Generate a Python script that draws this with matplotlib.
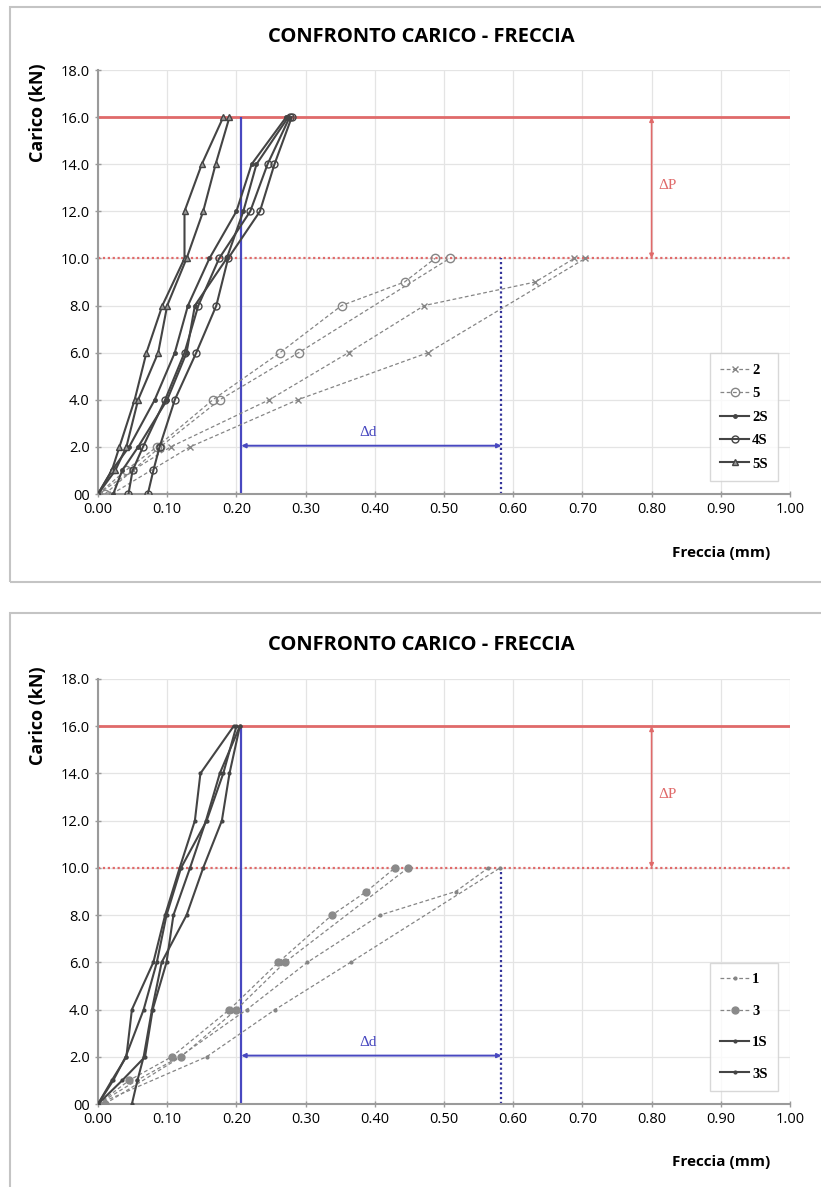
import matplotlib
matplotlib.use('Agg')
import matplotlib.pyplot as plt
from matplotlib.patches import Rectangle

# ---------------------------------------------------------------- data ---
# top panel: load (kN) vs deflection (mm), two traces per specimen
LOAD_STATIC_FULL = [0, 1, 2, 4, 6, 8, 9, 10]
LOAD_STATIC_SHORT = [0, 2, 4, 6, 10]
LOAD_CYCLIC = [0, 1, 2, 4, 6, 8, 10, 12, 14, 16]

T2_A = [0.00, 0.05, 0.105, 0.2475, 0.362, 0.4715, 0.632, 0.688]
T2_B = [0.02, 0.133, 0.2886, 0.477, 0.704]
T5_A = [0.00, 0.04, 0.085, 0.166, 0.263, 0.352, 0.443, 0.487]
T5_B = [0.01, 0.09, 0.176, 0.29, 0.508]
T2S_A = [0.000, 0.020, 0.045, 0.082, 0.111, 0.130, 0.161, 0.200, 0.222, 0.272]
T2S_B = [0.022, 0.035, 0.058, 0.100, 0.128, 0.140, 0.186, 0.210, 0.229, 0.275]
T4S_A = [0.072, 0.080, 0.089, 0.111, 0.142, 0.171, 0.188, 0.234, 0.255, 0.280]
T4S_B = [0.044, 0.050, 0.065, 0.097, 0.125, 0.145, 0.175, 0.220, 0.245, 0.277]
T5S_A = [0.000, 0.020, 0.031, 0.053, 0.070, 0.093, 0.125, 0.125, 0.150, 0.181]
T5S_B = [0.000, 0.025, 0.041, 0.058, 0.087, 0.100, 0.128, 0.152, 0.170, 0.190]

# bottom panel
B1_A = [0.00, 0.056, 0.118, 0.215, 0.3025, 0.4075, 0.517, 0.564]
B1_B = [0.00, 0.157, 0.256, 0.365, 0.581]
B3_A = [0.00, 0.045, 0.1065, 0.19, 0.2606, 0.338, 0.388, 0.429]
B3_B = [0.01, 0.12, 0.20, 0.27, 0.448]
B1S_A = [0.000, 0.020, 0.041, 0.049, 0.080, 0.097, 0.118, 0.140, 0.148, 0.196]
B1S_B = [0.000, 0.035, 0.068, 0.079, 0.099, 0.109, 0.133, 0.156, 0.176, 0.205]
B3S_A = [0.049, 0.057, 0.066, 0.078, 0.092, 0.128, 0.152, 0.179, 0.190, 0.205]
B3S_B = [0.000, 0.022, 0.040, 0.066, 0.085, 0.099, 0.120, 0.157, 0.181, 0.200]

Y_TICKS = [0, 2, 4, 6, 8, 10, 12, 14, 16, 18]
Y_LABELS = ['00', '2.0', '4.0', '6.0', '8.0', '10.0', '12.0', '14.0', '16.0', '18.0']
X_TICKS = [0.0, 0.1, 0.2, 0.3, 0.4, 0.5, 0.6, 0.7, 0.8, 0.9, 1.0]

P_MAX = 16.0
P_STATIC = 10.0
D_LEFT = 0.207
D_RIGHT = 0.583

# ------------------------------------------------------------- styling ---
C_RED = '#e06a6a'
C_BLUE = '#4848c0'
C_BLUE_DOT = '#34349a'
C_DASH = '#858585'
C_SOLID = '#444444'
C_GRID = '#e4e4e4'
C_AXIS = '#9a9a9a'
C_FRAME = '#c4c4c4'
SANS = ['Open Sans', 'DejaVu Sans']
SERIF = ['Liberation Serif', 'DejaVu Serif']
DASH = (0, (3, 2))

W, H = 821, 1187


def fx(px):
    return px / W


def fy(py):
    return 1 - py / H


def style_axis(ax):
    for side in ('top', 'right'):
        ax.spines[side].set_visible(False)
    for side in ('left', 'bottom'):
        ax.spines[side].set_color(C_AXIS)
        ax.spines[side].set_linewidth(1.5)
    ax.set_xlim(0, 1.0)
    ax.set_ylim(0, 18)
    ax.set_xticks(X_TICKS)
    ax.set_xticklabels([f'{v:.2f}' for v in X_TICKS], family=SANS, fontsize=10.5)
    ax.set_yticks(Y_TICKS)
    ax.set_yticklabels(Y_LABELS, family=SANS, fontsize=10.5)
    ax.tick_params(length=4, width=1, color=C_AXIS, direction='inout', pad=4)
    ax.grid(color=C_GRID, linewidth=0.9)
    ax.set_axisbelow(True)


def reference_lines(ax):
    ax.axhline(P_MAX, color=C_RED, linewidth=2, zorder=1)
    ax.axhline(P_STATIC, color=C_RED, linewidth=1.6, linestyle=(0, (1, 1.2)), zorder=1)
    ax.vlines(D_LEFT, 0, P_MAX, color=C_BLUE, linewidth=1.6, zorder=1)
    ax.vlines(D_RIGHT, 0, P_STATIC, color=C_BLUE_DOT, linewidth=1.6,
              linestyle=(0, (1, 1.2)), zorder=1)
    ax.annotate('', xy=(D_RIGHT, 2.05), xytext=(D_LEFT, 2.05),
                arrowprops=dict(arrowstyle='<|-|>', color=C_BLUE, linewidth=1.4,
                                mutation_scale=6, shrinkA=0, shrinkB=0))
    ax.text(0.39, 2.35, 'Δd', color=C_BLUE, fontsize=11, family=SERIF,
            ha='center', va='bottom')
    ax.annotate('', xy=(0.80, P_STATIC), xytext=(0.80, P_MAX),
                arrowprops=dict(arrowstyle='<|-|>', color=C_RED, linewidth=1.2,
                                mutation_scale=6, shrinkA=0, shrinkB=0))
    ax.text(0.81, 13.1, 'ΔP', color=C_RED, fontsize=11, family=SERIF,
            ha='left', va='center')


def dashed(ax, x, y, marker, label=None, **kw):
    ax.plot(x, y, color=C_DASH, linewidth=0.9, linestyle=DASH, marker=marker,
            label=label, zorder=3, **kw)


def solid(ax, x, y, marker, label=None, **kw):
    ax.plot(x, y, color=C_SOLID, linewidth=1.5, marker=marker,
            label=label, zorder=4, **kw)


def panel_text(ax, title_y, ylab_y, xlab_y):
    fig = ax.figure
    fig.text(fx(421), fy(title_y), 'CONFRONTO CARICO - FRECCIA', family=SANS,
             fontsize=14.5, fontweight='bold', ha='center', va='center')
    fig.text(fx(38), fy(ylab_y), 'Carico (kN)', family=SANS, fontsize=13,
             fontweight='bold', rotation=90, ha='center', va='center')
    fig.text(fx(770), fy(xlab_y), 'Freccia (mm)', family=SANS, fontsize=11,
             fontweight='bold', ha='right', va='center')


def legend(ax, spacing):
    leg = ax.legend(loc='lower right', bbox_to_anchor=(0.993, 0.014),
                    frameon=True, fancybox=False, handlelength=2.0,
                    labelspacing=spacing, borderpad=0.7, handletextpad=0.2,
                    prop=dict(family=SERIF, weight='bold', size=10.5))
    leg.get_frame().set_edgecolor('#cfcfcf')
    leg.get_frame().set_linewidth(1.0)


fig = plt.figure(figsize=(W / 100, H / 100), dpi=100)
fig.patch.set_facecolor('white')

# panel frames
fig.add_artist(Rectangle((fx(10), fy(582)), 1.1, fy(7) - fy(582),
                         transform=fig.transFigure, fill=False,
                         edgecolor=C_FRAME, linewidth=1.5))
fig.add_artist(Rectangle((fx(10), -0.1), 1.1, fy(613) + 0.1,
                         transform=fig.transFigure, fill=False,
                         edgecolor=C_FRAME, linewidth=1.5))

# ---------------------------------------------------------- top panel ---
ax1 = fig.add_axes([fx(98), fy(494), fx(790) - fx(98), fy(70) - fy(494)])
style_axis(ax1)
reference_lines(ax1)
dashed(ax1, T2_A, LOAD_STATIC_FULL, 'x', '2', markersize=4)
dashed(ax1, T2_B, LOAD_STATIC_SHORT, 'x', markersize=4)
dashed(ax1, T5_A, LOAD_STATIC_FULL, 'o', '5', markersize=6, markerfacecolor='none')
dashed(ax1, T5_B, LOAD_STATIC_SHORT, 'o', markersize=6, markerfacecolor='none')
solid(ax1, T2S_A, LOAD_CYCLIC, '.', '2S', markersize=5)
solid(ax1, T2S_B, LOAD_CYCLIC, '.', markersize=5)
solid(ax1, T4S_A, LOAD_CYCLIC, 'o', '4S', markersize=5, markerfacecolor='none')
solid(ax1, T4S_B, LOAD_CYCLIC, 'o', markersize=5, markerfacecolor='none')
solid(ax1, T5S_A, LOAD_CYCLIC, '^', '5S', markersize=5, markerfacecolor='#9a9a9a')
solid(ax1, T5S_B, LOAD_CYCLIC, '^', markersize=5, markerfacecolor='#9a9a9a')
legend(ax1, 0.7)
panel_text(ax1, 37, 113, 553)

# ------------------------------------------------------- bottom panel ---
ax2 = fig.add_axes([fx(98), fy(1104), fx(790) - fx(98), fy(679) - fy(1104)])
style_axis(ax2)
reference_lines(ax2)
dashed(ax2, B1_A, LOAD_STATIC_FULL, '.', '1', markersize=4)
dashed(ax2, B1_B, LOAD_STATIC_SHORT, '.', markersize=4)
dashed(ax2, B3_A, LOAD_STATIC_FULL, 'o', '3', markersize=5,
       markerfacecolor='#8a8a8a', markeredgecolor='#8a8a8a')
dashed(ax2, B3_B, LOAD_STATIC_SHORT, 'o', markersize=5,
       markerfacecolor='#8a8a8a', markeredgecolor='#8a8a8a')
solid(ax2, B1S_A, LOAD_CYCLIC, '.', '1S', markersize=4)
solid(ax2, B1S_B, LOAD_CYCLIC, '.', markersize=4)
solid(ax2, B3S_A, LOAD_CYCLIC, '.', '3S', markersize=4)
solid(ax2, B3S_B, LOAD_CYCLIC, '.', markersize=4)
legend(ax2, 1.25)
panel_text(ax2, 645, 716, 1162)

fig.savefig('out.png', dpi=100, facecolor='white')
